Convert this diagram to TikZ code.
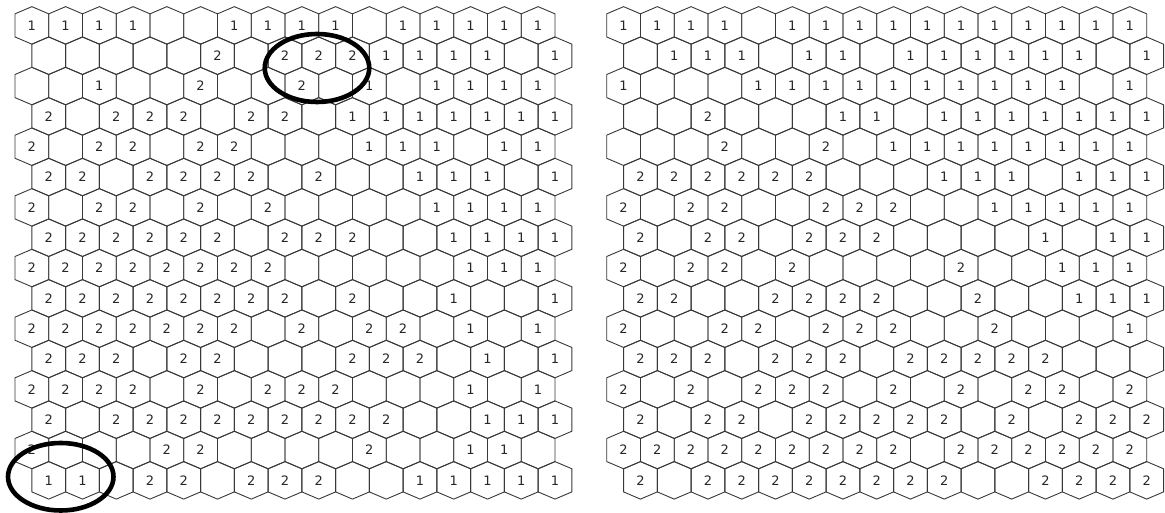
\documentclass[tikz,border=0pt]{standalone}
\usepackage{fontspec}
\setmainfont{DejaVu Sans}
\usetikzlibrary{shapes.geometric}
\tikzset{
  hexcell/.style={draw=black!78, line width=0.9pt, line join=miter},
  cellnum/.style={inner sep=0pt, text=black!85, font=\fontsize{13}{13}\selectfont},
  ringmark/.style={ellipse, draw=black, line width=4.6pt, inner sep=0pt, fill=none}
}
% #1 name prefix, #2 x of centre of row 0 / column 0, #3 rows of cell values
\newcommand\hexfield[3]{%
  \foreach \row [count=\r from 0] in {#3} {
    \foreach \v [count=\c from 0] in \row {
      \pgfmathsetmacro\cx{#2 + \c*33.75 + mod(\r,2)*16.875}
      \pgfmathsetmacro\cy{25.4 + \r*30.33}
      \draw[hexcell] (\cx,\cy-18.75) -- (\cx+16.875,\cy-11.55) -- (\cx+16.875,\cy+11.55)
        -- (\cx,\cy+18.75) -- (\cx-16.875,\cy+11.55) -- (\cx-16.875,\cy-11.55) -- cycle;
      \ifnum\v>0 \node[cellnum] (#1-\r-\c) at (\cx,\cy) {\v}; \fi
    }
  }
}
\begin{document}
\begin{tikzpicture}[x=1pt,y=-1pt]
\useasboundingbox (0,0) rectangle (1165,513);
\hexfield{L}{31.875}{
{1,1,1,1,0,0,1,1,1,1,0,1,1,1,1,1},
{0,0,0,0,0,2,0,2,2,2,1,1,1,1,0,1},
{0,0,1,0,0,2,0,0,2,0,1,0,1,1,1,1},
{2,0,2,2,2,0,2,2,0,1,1,1,1,1,1,1},
{2,0,2,2,0,2,2,0,0,0,1,1,1,0,1,1},
{2,2,0,2,2,2,2,0,2,0,0,1,1,1,0,1},
{2,0,2,2,0,2,0,2,0,0,0,0,1,1,1,1},
{2,2,2,2,2,2,0,2,2,2,0,0,1,1,1,1},
{2,2,2,2,2,2,2,2,0,0,0,0,0,1,1,1},
{2,2,2,2,2,2,2,2,0,2,0,0,1,0,0,1},
{2,2,2,2,2,2,2,0,2,0,2,2,0,1,0,1},
{2,2,2,0,2,2,0,0,0,2,2,2,0,1,0,1},
{2,2,2,2,0,2,0,2,2,2,0,0,0,1,0,1},
{2,0,2,2,2,2,2,2,2,2,2,0,0,1,1,1},
{2,0,0,0,2,2,0,0,0,0,2,0,0,1,1,0},
{1,1,0,2,2,0,2,2,2,0,0,1,1,1,1,1}}
\hexfield{R}{623.575}{
{1,1,1,1,0,1,1,1,1,1,1,1,1,1,1,1},
{0,1,1,1,0,1,1,0,1,1,1,1,1,1,0,1},
{1,0,0,0,1,1,1,1,1,1,1,1,1,1,0,1},
{0,0,2,0,0,0,1,1,0,1,1,1,1,1,1,1},
{0,0,0,2,0,0,2,0,1,1,1,1,1,1,1,1},
{2,2,2,2,2,2,0,0,0,1,1,1,0,1,1,1},
{2,0,2,2,0,0,2,2,2,0,0,1,1,1,1,1},
{2,0,2,2,0,2,2,2,0,0,0,0,1,0,1,1},
{2,0,2,2,0,2,0,0,0,0,2,0,0,1,1,1},
{2,2,0,0,2,2,2,2,0,0,2,0,0,1,1,1},
{2,0,0,2,2,0,2,2,2,0,0,2,0,0,0,1},
{2,2,2,0,2,2,2,0,2,2,2,2,2,0,0,0},
{2,0,2,0,2,2,2,0,2,0,2,0,2,2,0,2},
{2,0,2,2,0,2,2,2,2,2,0,2,0,2,2,2},
{2,2,2,2,2,2,2,2,2,0,2,2,2,2,2,2},
{2,0,2,2,2,2,2,2,2,2,0,0,2,2,2,2}}
\node[ringmark, minimum width=104.5pt, minimum height=68pt] (ringtop) at (317,68) {};
\node[ringmark, minimum width=105.5pt, minimum height=67.5pt] (ringbottom) at (60.75,476.75) {};
\end{tikzpicture}
\end{document}
